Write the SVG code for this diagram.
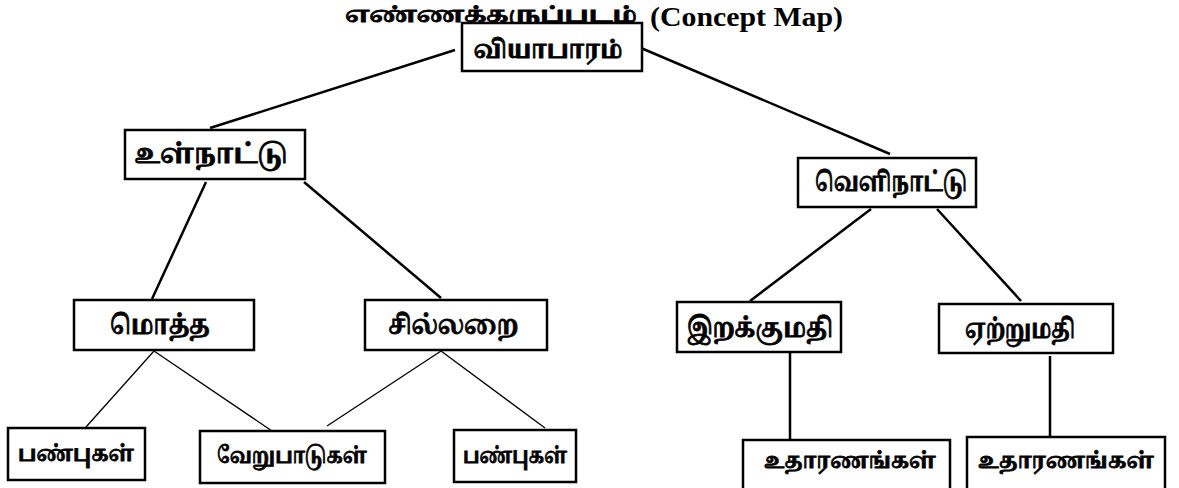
<svg xmlns="http://www.w3.org/2000/svg" width="1179" height="488" viewBox="0 0 1179 488">
<style>
.box{fill:#fff;stroke:#000;stroke-width:2.5}
.t{font-family:"Noto Serif Tamil","Noto Sans Tamil","Noto Sans","Liberation Serif",serif;font-weight:bold;fill:#000;stroke:#000;stroke-width:0.8;text-anchor:middle}
.en{font-family:"Liberation Serif",serif;font-weight:bold;fill:#000}
.thick{stroke:#000;stroke-width:2.5;fill:none}
.thin{stroke:#000;stroke-width:1.3;fill:none}
</style>
<rect width="1179" height="488" fill="#fff"/>
<g id="connectors">
<line class="thick" x1="455" y1="50" x2="210" y2="128"/>
<line class="thick" x1="641" y1="48" x2="890" y2="154"/>
<line class="thick" x1="206" y1="182" x2="152" y2="299"/>
<line class="thick" x1="304" y1="182" x2="441" y2="298"/>
<line class="thick" x1="871" y1="209" x2="750" y2="301"/>
<line class="thick" x1="937" y1="209" x2="1021" y2="301"/>
<line class="thick" x1="790" y1="352" x2="790" y2="440"/>
<line class="thick" x1="1050" y1="356" x2="1050" y2="436"/>
<line class="thin" x1="154" y1="351" x2="86" y2="427"/>
<line class="thin" x1="154" y1="351" x2="272" y2="431"/>
<line class="thin" x1="441" y1="351" x2="327" y2="426"/>
<line class="thin" x1="441" y1="351" x2="545" y2="428"/>
</g>
<g id="title">
<text class="t" x="491" y="22" font-size="21" textLength="292" lengthAdjust="spacingAndGlyphs">எண்ணக்கருப்படம்</text>
<text class="en" x="650" y="26" font-size="28" textLength="193" lengthAdjust="spacingAndGlyphs">(Concept Map)</text>
</g>
<g id="n-root">
<rect class="box" x="462" y="23" width="180" height="48"/>
<text class="t" x="548" y="58" font-size="24" textLength="149" lengthAdjust="spacingAndGlyphs">வியாபாரம்</text>
</g>
<g id="n-domestic">
<rect class="box" x="125" y="130" width="180" height="49"/>
<text class="t" x="211" y="163" font-size="26" textLength="153" lengthAdjust="spacingAndGlyphs">உள்நாட்டு</text>
</g>
<g id="n-foreign">
<rect class="box" x="798" y="158" width="178" height="49"/>
<text class="t" x="891" y="191" font-size="26" textLength="152" lengthAdjust="spacingAndGlyphs">வெளிநாட்டு</text>
</g>
<g id="n-wholesale">
<rect class="box" x="74" y="300" width="180" height="50"/>
<text class="t" x="160" y="334" font-size="26" textLength="100" lengthAdjust="spacingAndGlyphs">மொத்த</text>
</g>
<g id="n-retail">
<rect class="box" x="365" y="300" width="182" height="50"/>
<text class="t" x="453" y="334" font-size="26" textLength="130" lengthAdjust="spacingAndGlyphs">சில்லறை</text>
</g>
<g id="n-import">
<rect class="box" x="677" y="302" width="164" height="50"/>
<text class="t" x="760" y="337" font-size="26" textLength="146" lengthAdjust="spacingAndGlyphs">இறக்குமதி</text>
</g>
<g id="n-export">
<rect class="box" x="939" y="304" width="174" height="49"/>
<text class="t" x="1020" y="338" font-size="26" textLength="110" lengthAdjust="spacingAndGlyphs">ஏற்றுமதி</text>
</g>
<g id="n-features1">
<rect class="box" x="8" y="428" width="137" height="52"/>
<text class="t" x="76" y="461" font-size="22" textLength="116" lengthAdjust="spacingAndGlyphs">பண்புகள்</text>
</g>
<g id="n-differences">
<rect class="box" x="200" y="431" width="185" height="52"/>
<text class="t" x="292" y="463" font-size="22" textLength="150" lengthAdjust="spacingAndGlyphs">வேறுபாடுகள்</text>
</g>
<g id="n-features2">
<rect class="box" x="454" y="430" width="122" height="52"/>
<text class="t" x="515" y="463" font-size="22" textLength="104" lengthAdjust="spacingAndGlyphs">பண்புகள்</text>
</g>
<g id="n-examples1">
<rect class="box" x="743" y="440" width="207" height="60"/>
<text class="t" x="850" y="468" font-size="22" textLength="172" lengthAdjust="spacingAndGlyphs">உதாரணங்கள்</text>
</g>
<g id="n-examples2">
<rect class="box" x="967" y="437" width="198" height="60"/>
<text class="t" x="1066" y="468" font-size="22" textLength="176" lengthAdjust="spacingAndGlyphs">உதாரணங்கள்</text>
</g>
</svg>
